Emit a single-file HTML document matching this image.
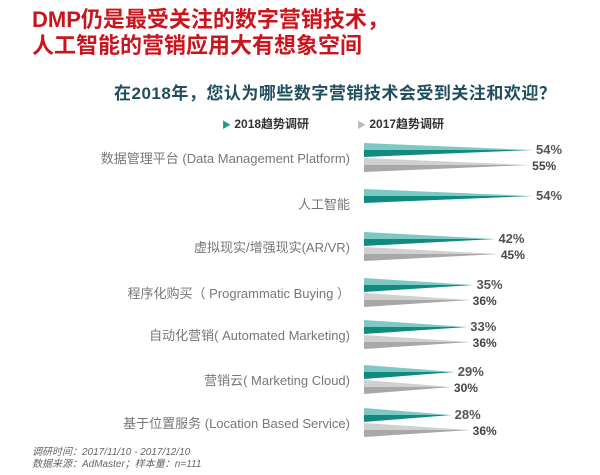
<!DOCTYPE html>
<html><head><meta charset="utf-8"><style>
body{margin:0;width:600px;height:475px;background:#fff;font-family:"Liberation Sans","Noto Sans CJK SC",sans-serif;position:relative;overflow:hidden}
.t{position:absolute;white-space:nowrap}
.title{left:32px;color:#c8161e;font-weight:bold;font-size:22px;line-height:25px}
.lab{right:250px;color:#777;font-size:13px}
.p{font-size:12px;font-weight:bold;color:#555}
</style></head><body>
<div class="t title" style="top:7px">DMP仍是最受关注的数字营销技术，</div>
<div class="t title" style="top:33px">人工智能的营销应用大有想象空间</div>
<div class="t" style="left:114px;top:79px;font-size:17px;font-weight:bold;color:#1f4e5f;letter-spacing:0.5px">在2018年，您认为哪些数字营销技术会受到关注和欢迎？</div>
<div class="t" style="left:222px;top:115px;font-size:12px;font-weight:bold;color:#333"><span style="color:#1a9a8f;font-size:9px">▶</span> 2018趋势调研</div>
<div class="t" style="left:357px;top:115px;font-size:12px;font-weight:bold;color:#333"><span style="color:#bbb;font-size:9px">▶</span> 2017趋势调研</div>
<svg width="600" height="475" style="position:absolute;left:0;top:0" id="s"></svg>
<div id="labs"></div>
<div class="t" style="left:32px;top:447px;font-size:10px;font-style:italic;color:#666;line-height:12px">调研时间：2017/11/10 - 2017/12/10<br>数据来源：AdMaster；样本量：n=111</div>
<script>
var rows=[["数据管理平台 (Data Management Platform)",157,54,55],["人工智能",203,54,null],["虚拟现实/增强现实(AR/VR)",246,42,45],["程序化购买（ Programmatic Buying ）",292,35,36],["自动化营销( Automated Marketing)",334,33,36],["营销云( Marketing Cloud)",379,29,30],["基于位置服务 (Location Based Service)",422,28,36]];
var s="",h="",x0=364,k=3.13;
rows.forEach(function(r){var y=r[1];
var a=y-14,tx=x0+r[2]*k,ty=y-7;
s+='<polygon points="'+x0+','+a+' '+tx+','+ty+' '+x0+','+(y-7)+'" fill="#7cc9c4"/>';
s+='<polygon points="'+x0+','+(y-7)+' '+tx+','+ty+' '+x0+','+y+'" fill="#138a80"/>';
h+='<div class="t lab" style="top:'+(y-9)+'px">'+r[0]+'</div>';
h+='<div class="t p" style="left:'+(tx+3)+'px;top:'+(a-1)+'px;font-size:13px">'+r[2]+'%</div>';
if(r[3]){var b=y+1,gx=x0+r[3]*k-6,gy=b+7;
s+='<polygon points="'+x0+','+b+' '+gx+','+gy+' '+x0+','+gy+'" fill="#d0d0d0"/>';
s+='<polygon points="'+x0+','+gy+' '+gx+','+gy+' '+x0+','+(b+14)+'" fill="#a8a8a8"/>';
h+='<div class="t p" style="left:'+(gx+2)+'px;top:'+(b+1)+'px;color:#444">'+r[3]+'%</div>';}
});
document.getElementById("s").innerHTML=s;document.getElementById("labs").innerHTML=h;
</script>
</body></html>
